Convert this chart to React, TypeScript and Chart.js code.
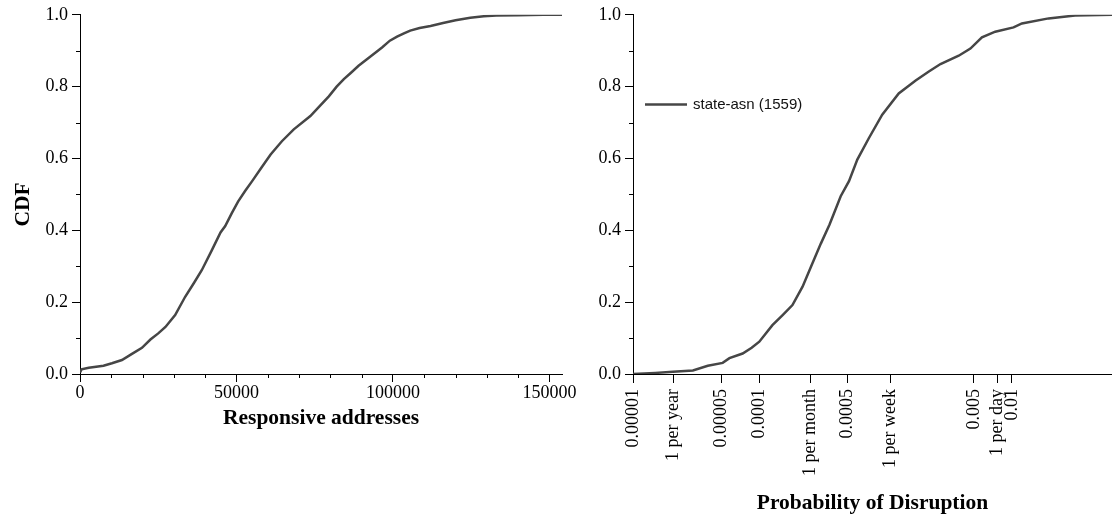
import { useEffect, useRef } from 'react';
import { Chart, registerables } from 'chart.js';

Chart.register(...registerables);

// ---- Left panel: CDF of responsive addresses ----
const addrValues = [
  0, 500, 2800, 7500, 10200, 13400, 16600, 19800, 22500, 25000, 27300, 30400,
  33600, 36300, 38900, 42100, 44900, 46400, 48500, 50500, 52800, 55000, 58000,
  60900, 64500, 68300, 73600, 76500, 79500, 82000, 84300, 86500, 89000, 92500,
  96500, 99000, 101300, 103500, 105500, 108500, 112000, 116000, 120000, 124700,
  129000, 133000, 140000, 148000, 154000,
];
const addrCdf = [
  0.004, 0.013, 0.0175, 0.023, 0.03, 0.039, 0.056, 0.073, 0.096, 0.113, 0.131,
  0.164, 0.215, 0.252, 0.289, 0.344, 0.394, 0.412, 0.448, 0.48, 0.51, 0.537,
  0.575, 0.611, 0.648, 0.681, 0.718, 0.745, 0.773, 0.8, 0.821, 0.838, 0.858,
  0.882, 0.909, 0.928, 0.939, 0.948, 0.956, 0.963, 0.969, 0.977, 0.985, 0.992,
  0.996, 0.998, 0.999, 1.0, 1.0,
];
const addrMajorTicks = [0, 50000, 100000, 150000];
const addrMinorTicks = [
  10000, 20000, 30000, 40000, 60000, 70000, 80000, 90000, 110000, 120000,
  130000, 140000,
];

// ---- Shared CDF axis ----
const cdfMajorTicks = [0, 0.2, 0.4, 0.6, 0.8, 1.0];
const cdfMinorTicks = [0.1, 0.3, 0.5, 0.7, 0.9];

// ---- Right panel: CDF of per-round disruption probability ----
const disruptProb = [
  1e-5, 1.5e-5, 2.07e-5, 2.98e-5, 3.91e-5, 5.13e-5, 5.8e-5, 7.38e-5, 8.7e-5,
  1.0e-4, 1.27e-4, 1.53e-4, 1.83e-4, 2.2e-4, 2.56e-4, 3.07e-4, 3.6e-4, 4.41e-4,
  5.13e-4, 5.97e-4, 7.38e-4, 9.4e-4, 1.27e-3, 1.73e-3, 2.2e-3, 2.72e-3, 3.79e-3,
  4.69e-3, 5.79e-3, 7.38e-3, 1.03e-2, 1.2e-2, 1.95e-2, 3.16e-2, 6.2e-2,
];
const disruptCdf = [
  0.0, 0.003, 0.006, 0.01, 0.023, 0.031, 0.044, 0.057, 0.073, 0.09, 0.136,
  0.164, 0.192, 0.243, 0.298, 0.363, 0.416, 0.495, 0.537, 0.597, 0.657, 0.722,
  0.781, 0.817, 0.842, 0.863, 0.886, 0.906, 0.937, 0.953, 0.965, 0.976, 0.99,
  0.998, 1.0,
];
// 11-minute probing rounds: 1 per day = 11/1440, per week, month, year follow
const probTickValues = [
  0.00001, 2.093e-5, 0.00005, 0.0001, 2.546e-4, 0.0005, 1.091e-3, 0.005,
  7.639e-3, 0.01,
];
const probTickLabels = [
  '0.00001', '1 per year', '0.00005', '0.0001', '1 per month', '0.0005',
  '1 per week', '0.005', '1 per day', '0.01',
];

const LINE_COLOR = '#464646';
const SERIF = '"Liberation Serif", "Times New Roman", Times, serif';
const SANS = '"Liberation Sans", Arial, Helvetica, sans-serif';

Chart.defaults.font.family = SERIF;

// Short unlabeled ticks between the labeled ones
const minorTicksPlugin = {
  id: 'minorTicks',
  afterDraw(chart: any, _args: any, opts: any) {
    const { ctx, chartArea } = chart;
    const len = opts.length || 4;
    ctx.save();
    ctx.strokeStyle = '#000';
    ctx.lineWidth = 1;
    ctx.beginPath();
    for (const v of opts.x || []) {
      const px = Math.round(chart.scales.x.getPixelForValue(v)) + 0.5;
      ctx.moveTo(px, chartArea.bottom);
      ctx.lineTo(px, chartArea.bottom + len);
    }
    for (const v of opts.y || []) {
      const py = Math.round(chart.scales.y.getPixelForValue(v)) + 0.5;
      ctx.moveTo(chartArea.left - len, py);
      ctx.lineTo(chartArea.left, py);
    }
    ctx.stroke();
    ctx.restore();
  },
};

// Rotated y-axis title, sitting slightly below the plot's vertical centre
const sideTitlePlugin = {
  id: 'sideTitle',
  afterDraw(chart: any, _args: any, opts: any) {
    if (!opts || !opts.text) return;
    const { ctx, chartArea } = chart;
    ctx.save();
    ctx.translate(opts.x, (chartArea.top + chartArea.bottom) / 2 + opts.shift);
    ctx.rotate(-Math.PI / 2);
    ctx.font = `bold 21.5px ${SERIF}`;
    ctx.fillStyle = '#000';
    ctx.textAlign = 'center';
    ctx.textBaseline = 'middle';
    ctx.fillText(opts.text, 0, 0);
    ctx.restore();
  },
};

// Legend entry placed inside the plot area
const inlineLegendPlugin = {
  id: 'inlineLegend',
  afterDatasetsDraw(chart: any, _args: any, opts: any) {
    if (!opts || !opts.display) return;
    const ds = chart.data.datasets[0];
    const { ctx, chartArea } = chart;
    const y = chart.scales.y.getPixelForValue(opts.y);
    const x0 = chartArea.left + opts.offset;
    ctx.save();
    ctx.strokeStyle = ds.borderColor;
    ctx.lineWidth = ds.borderWidth;
    ctx.beginPath();
    ctx.moveTo(x0, y);
    ctx.lineTo(x0 + opts.lineLength, y);
    ctx.stroke();
    ctx.fillStyle = '#111';
    ctx.font = `15px ${SANS}`;
    ctx.textBaseline = 'middle';
    ctx.textAlign = 'left';
    ctx.fillText(ds.label, x0 + opts.lineLength + opts.gap, y);
    ctx.restore();
  },
};

const tickFont = { family: SERIF, size: 18 };
const titleFont = { family: SERIF, size: 21.5, weight: 'bold' as const };

function cdfAxis(width: number) {
  return {
    type: 'linear',
    min: 0,
    max: 1,
    afterBuildTicks: (s: any) => {
      s.ticks = cdfMajorTicks.map((v) => ({ value: v }));
    },
    afterFit: (s: any) => {
      s.width = width;
    },
    ticks: {
      font: tickFont,
      color: '#000',
      padding: 4,
      autoSkip: false,
      callback: (v: any) => Number(v).toFixed(1),
    },
    grid: {
      display: true,
      drawOnChartArea: false,
      drawTicks: true,
      tickLength: 8,
      tickColor: '#000',
      tickWidth: 1,
    },
    border: { display: true, color: '#000', width: 1 },
    title: { display: false },
  };
}

function makeAddrConfig(): any {
  return {
    type: 'line',
    data: {
      datasets: [
        {
          label: 'responsive addresses',
          data: addrValues.map((x, i) => ({ x, y: addrCdf[i] })),
          borderColor: LINE_COLOR,
          borderWidth: 2.5,
          pointRadius: 0,
          tension: 0,
          fill: false,
        },
      ],
    },
    options: {
      animation: false,
      responsive: false,
      events: [],
      layout: { padding: { top: 14, right: 18, left: 0, bottom: 0 } },
      plugins: {
        legend: { display: false },
        tooltip: { enabled: false },
        minorTicks: { x: addrMinorTicks, y: cdfMinorTicks, length: 4 },
        sideTitle: { text: 'CDF', x: 23, shift: 10 },
      },
      scales: {
        x: {
          type: 'linear',
          min: 0,
          max: 154000,
          afterBuildTicks: (s: any) => {
            s.ticks = addrMajorTicks.map((v) => ({ value: v }));
          },
          afterFit: (s: any) => {
            s.height = 66;
          },
          ticks: {
            font: tickFont,
            color: '#000',
            padding: 0,
            maxRotation: 0,
            autoSkip: false,
            callback: (v: any) => String(v),
          },
          grid: {
            display: true,
            drawOnChartArea: false,
            drawTicks: true,
            tickLength: 8,
            tickColor: '#000',
            tickWidth: 1,
          },
          border: { display: true, color: '#000', width: 1 },
          title: {
            display: true,
            text: 'Responsive addresses',
            font: titleFont,
            color: '#000',
            padding: { top: 0, bottom: 9 },
          },
        },
        y: cdfAxis(80),
      },
    },
    plugins: [minorTicksPlugin, sideTitlePlugin],
  };
}

function makeProbConfig(): any {
  return {
    type: 'line',
    data: {
      datasets: [
        {
          label: 'state-asn (1559)',
          data: disruptProb.map((x, i) => ({ x, y: disruptCdf[i] })),
          borderColor: LINE_COLOR,
          borderWidth: 2.5,
          pointRadius: 0,
          tension: 0,
          fill: false,
        },
      ],
    },
    options: {
      animation: false,
      responsive: false,
      events: [],
      layout: { padding: { top: 14, right: 0, left: 0, bottom: 0 } },
      plugins: {
        legend: { display: false },
        tooltip: { enabled: false },
        minorTicks: { x: [], y: cdfMinorTicks, length: 4 },
        inlineLegend: { display: true, y: 0.75, offset: 12, lineLength: 42, gap: 6 },
      },
      scales: {
        x: {
          type: 'logarithmic',
          min: 0.00001,
          max: 0.062,
          afterBuildTicks: (s: any) => {
            s.ticks = probTickValues.map((v) => ({ value: v }));
          },
          afterFit: (s: any) => {
            s.height = 144;
          },
          ticks: {
            font: tickFont,
            color: '#000',
            padding: 6,
            minRotation: 90,
            maxRotation: 90,
            autoSkip: false,
            callback: (_v: any, i: number) => probTickLabels[i],
          },
          grid: {
            display: true,
            drawOnChartArea: false,
            drawTicks: true,
            tickLength: 9,
            tickColor: '#000',
            tickWidth: 1,
          },
          border: { display: true, color: '#000', width: 1 },
          title: {
            display: true,
            text: 'Probability of Disruption',
            font: titleFont,
            color: '#000',
            padding: { top: 0, bottom: 2 },
          },
        },
        y: cdfAxis(53),
      },
    },
    plugins: [minorTicksPlugin, inlineLegendPlugin],
  };
}

function ChartCanvas(props: {
  makeConfig: () => any;
  left: number;
  width: number;
  height: number;
}) {
  const ref = useRef<HTMLCanvasElement | null>(null);
  useEffect(() => {
    if (!ref.current) return;
    const chart = new Chart(ref.current, props.makeConfig());
    return () => chart.destroy();
  }, []);
  return (
    <canvas
      ref={ref}
      width={props.width}
      height={props.height}
      style={{
        position: 'absolute',
        left: props.left,
        top: 0,
        width: props.width,
        height: props.height,
      }}
    />
  );
}

export default function App() {
  return (
    <div
      style={{
        position: 'fixed',
        left: 0,
        top: 0,
        width: 1112,
        height: 518,
        background: '#fff',
        overflow: 'hidden',
      }}
    >
      <ChartCanvas makeConfig={makeAddrConfig} left={0} width={580} height={440} />
      <ChartCanvas makeConfig={makeProbConfig} left={580} width={532} height={518} />
    </div>
  );
}
